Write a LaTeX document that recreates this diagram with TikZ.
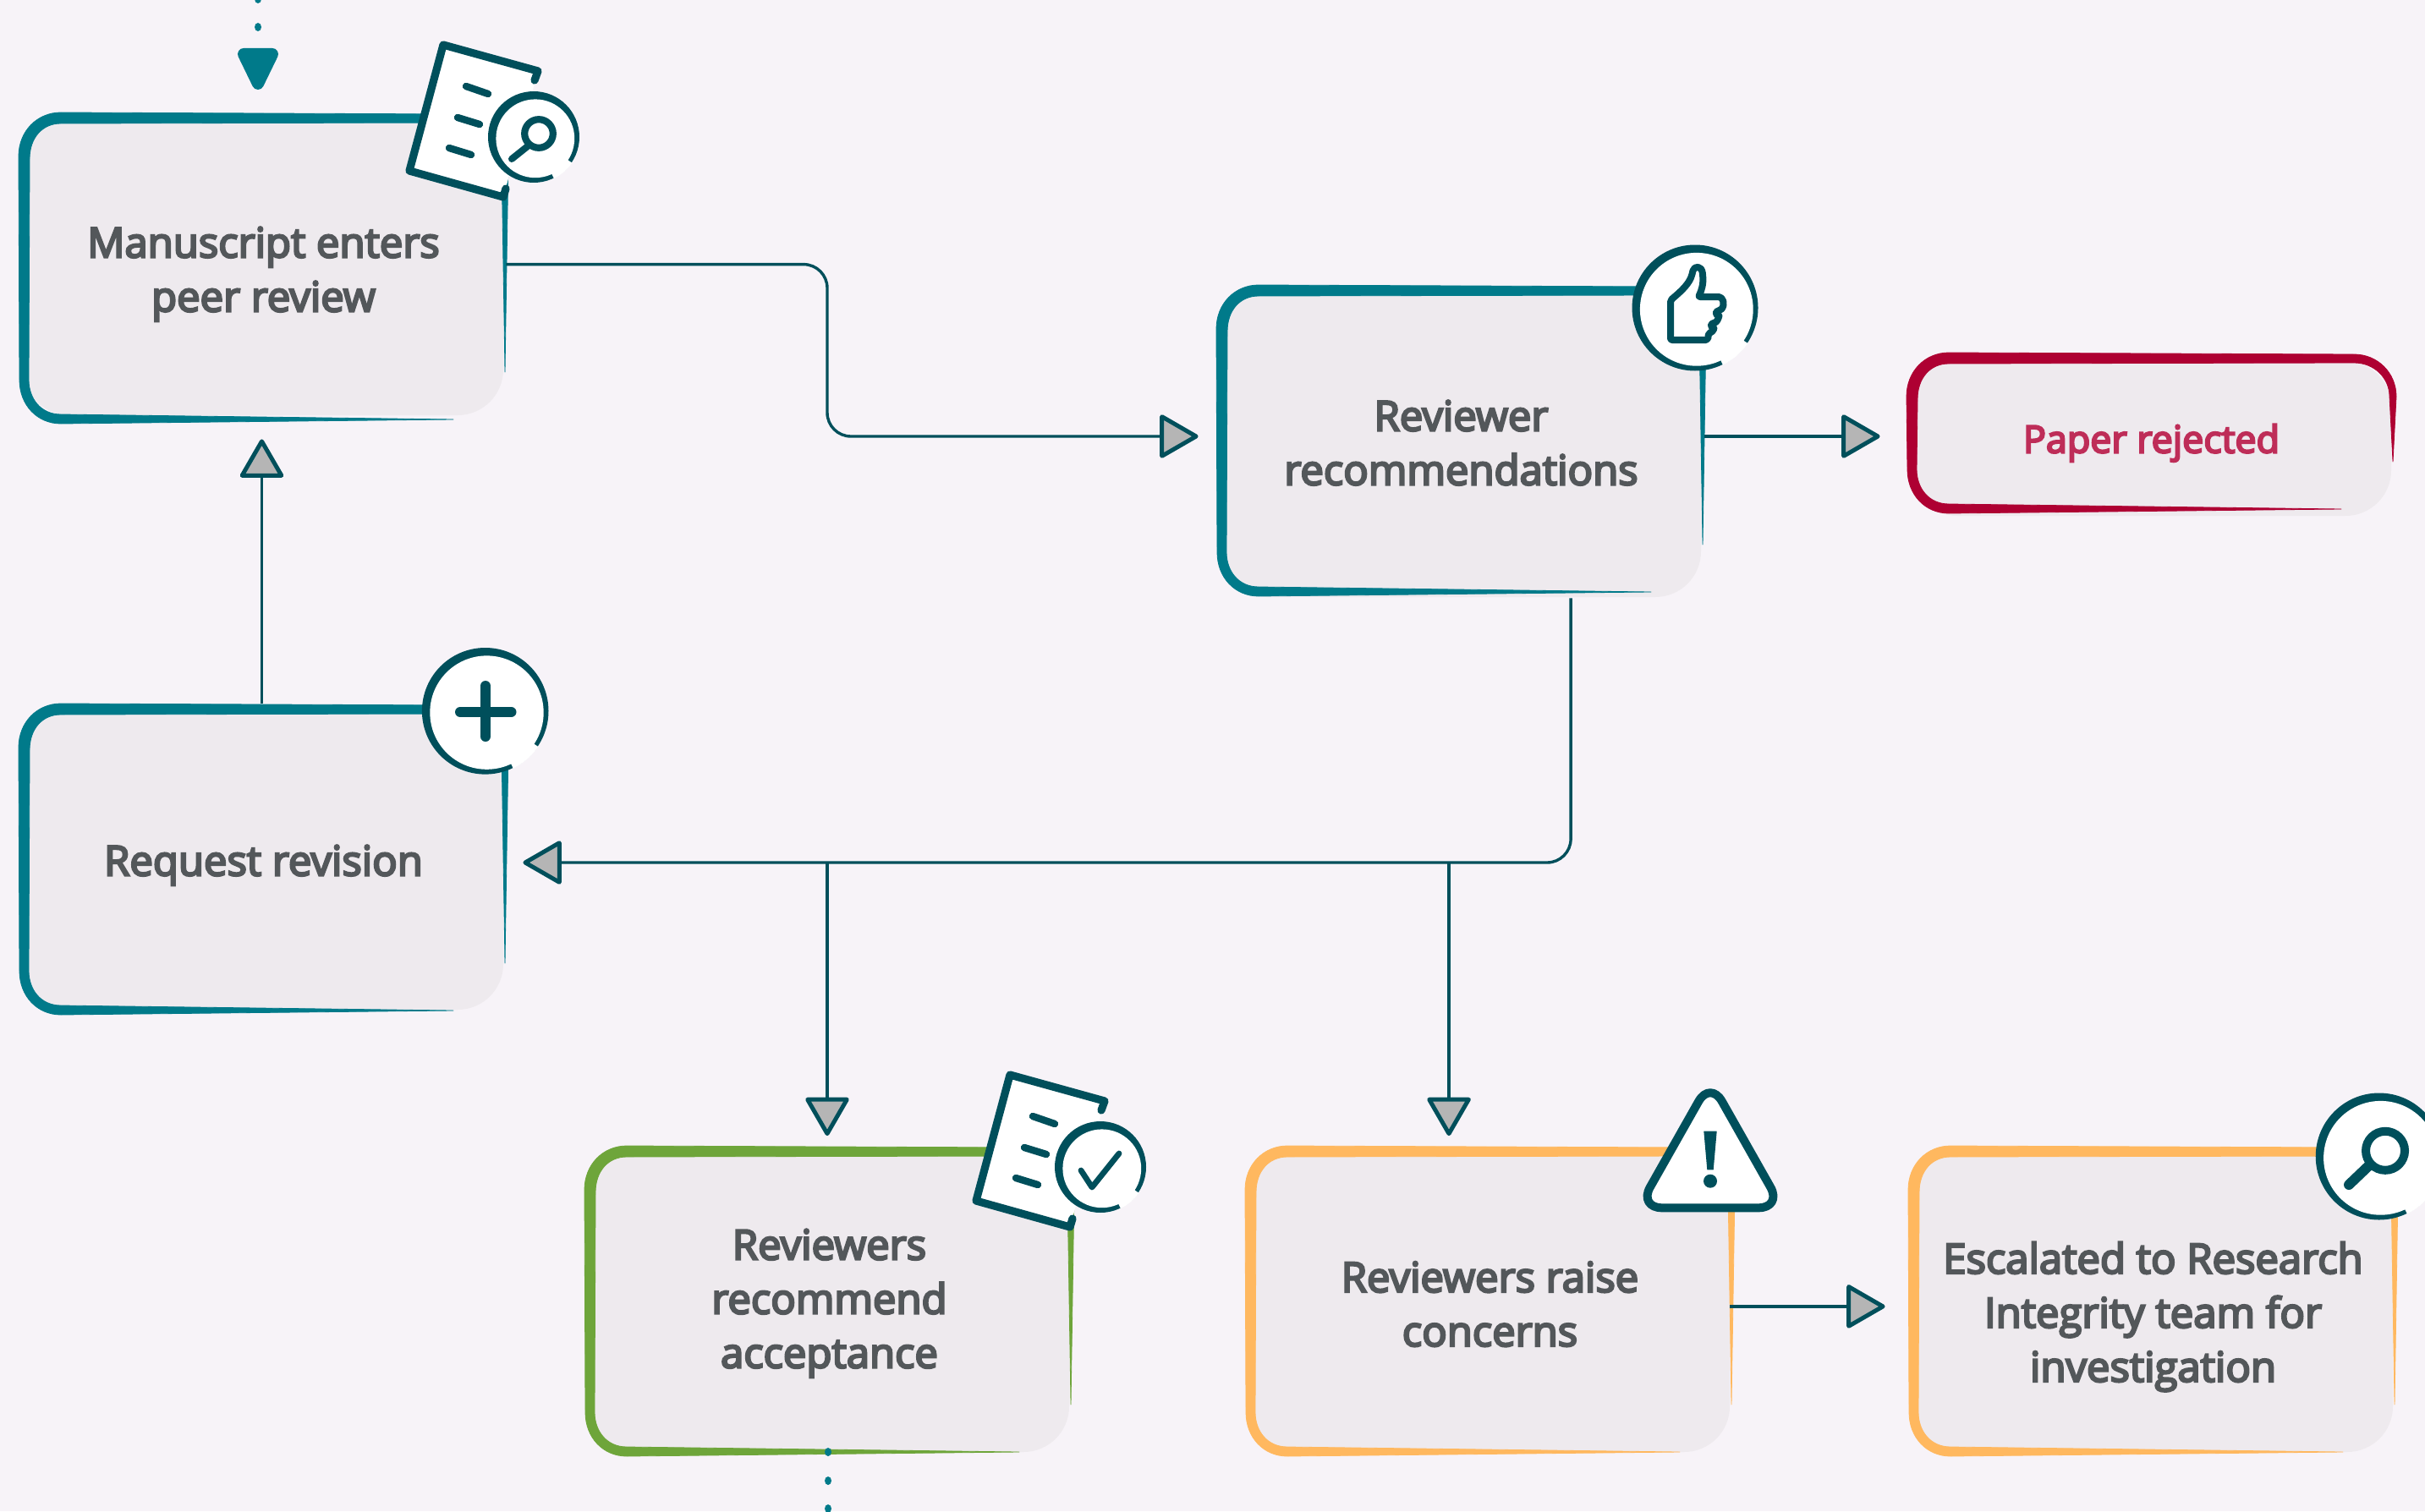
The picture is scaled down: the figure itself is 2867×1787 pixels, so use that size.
\documentclass[tikz,border=0pt]{standalone}
\usepackage{fontspec}
\newfontfamily\lab[FakeBold=5]{Open Sans}
\usetikzlibrary{arrows.meta,calc}
\definecolor{bgc}{HTML}{F7F3F8}
\definecolor{boxc}{HTML}{EEEAEE}
\definecolor{teal}{HTML}{007A8A}
\definecolor{icon}{HTML}{004F5B}
\definecolor{leaf}{HTML}{6EA53A}
\definecolor{amber}{HTML}{FFB85F}
\definecolor{crim}{HTML}{AE0032}
\definecolor{crimtxt}{HTML}{BE2D58}
\definecolor{txt}{HTML}{53575A}
\definecolor{tipc}{HTML}{B5B5B5}
\tikzset{
  x=0.5pt,y=-0.5pt,
  boxtext/.style={inner sep=0pt,minimum width=289.5pt,text=txt,font=\lab\fontsize{24.5}{32}\selectfont},
  conn/.style={draw=icon,line width=1.7pt,rounded corners=14pt,
     -{Triangle[length=24pt,width=27pt,fill=tipc,round,line width=2.5pt]}},
  iconline/.style={draw=icon,line width=4.6pt,line cap=round,line join=round},
  dotc/.style={fill=teal}
}
\newcommand\lbl[2][-10pt]{\raisebox{#1}[0pt][0pt]{\begin{tabular}{@{}c@{}}#2\end{tabular}}}
\newcommand\flowshape[6]{%
  \fill[boxc,rounded corners=27pt] (#1+6,#2+10) rectangle (#3-6,#6);
  \filldraw[#5,line width=0.4pt,line join=round]
    (#3-4,#4-61) -- (#3,#2+52) .. controls (#3,#2+24) and (#3-22,#2+2) .. (#3-50,#2+2)
    -- (#1+50,#2) .. controls (#1+22,#2) and (#1,#2+22) .. (#1,#2+52)
    -- (#1+1,#4-52) .. controls (#1+1,#4-22) and (#1+22,#4) .. (#1+50,#4)
    -- (#3-65,#4-5)
    -- (#1+50,#4-11) .. controls (#1+26,#4-11) and (#1+12,#4-30) .. (#1+12,#4-52)
    -- (#1+13,#2+55) .. controls (#1+13,#2+30) and (#1+28,#2+13) .. (#1+50,#2+13)
    -- (#3-50,#2+12) .. controls (#3-26,#2+12) and (#3-8,#2+30) .. (#3-8,#2+52)
    -- cycle;
}
\newcommand\ringdisc[3]{%
  \fill[icon] (#1,#2) circle[radius=#3*0.5pt];
  \fill[white] (#1+1.8,#2+1.8) circle[radius=(#3-7.6)*0.5pt];
  \fill[white] (#1,#2) -- ++(34:#3+0.6) arc[start angle=-34,end angle=-64,radius=(#3+0.6)*0.5pt] -- cycle;
}
\newcommand\docicon{%
  \fill[white] (524,53) -- (636,84) -- (595,233) -- (484,202) -- cycle;
  \draw[iconline] (632,95) -- (636,84) -- (524,53) -- (484,202) -- (595,233) -- (598,223);
  \draw[iconline,line width=4.2pt] (551,102) -- (577,111) (541,139) -- (567,147) (531,175) -- (557,183);
  \ringdisc{631}{162}{54}
}
\begin{document}
\begin{tikzpicture}
\useasboundingbox (0,0) rectangle (2867,1787);
\clip (0,0) rectangle (2867,1787);
\fill[bgc] (0,0) rectangle (2867,1787);

% boxes
\flowshape{22}{133}{601}{501}{teal}{491}
\flowshape{1438}{337}{2017}{705}{teal}{706}
\flowshape{22}{832}{601}{1200}{teal}{1194}
\flowshape{691}{1355}{1270}{1722}{leaf}{1717}
\flowshape{1472}{1355}{2051}{1722}{amber}{1717}
\flowshape{2256}{1355}{2835}{1722}{amber}{1717}
\flowshape{2254}{417}{2833}{607}{crim}{610}

% labels
\node[boxtext,minimum height=184pt] (b1) at (311.5,317) {\lbl[-9.5pt]{Manuscript enters\\peer review}};
\node[boxtext,minimum height=184pt] (b2) at (1727.5,521) {\lbl{Reviewer\\recommendations}};
\node[boxtext,minimum height=184pt] (b3) at (311.5,1016) {\lbl[-9.5pt]{Request revision}};
\node[boxtext,minimum height=184pt] (b4) at (980.5,1538.5) {\lbl[-7.3pt]{Reviewers\\recommend\\acceptance}};
\node[boxtext,minimum height=184pt] (b5) at (1761.5,1538.5) {\lbl[-10.5pt]{Reviewers raise\\concerns}};
\node[boxtext,minimum height=184pt] (b6) at (2545.5,1538.5) {\lbl[-15.5pt]{Escalated to Research\\Integrity team for\\investigation}};
\node[boxtext,minimum height=95pt,text=crimtxt,font=\lab\fontsize{22.4}{32}\selectfont] (b7) at (2543.5,514) {\lbl[-9.5pt]{Paper rejected}};

% connectors
\coordinate (m1) at (978,400);
\coordinate (j1) at (978,1020);
\coordinate (j2) at (1713,1020);
\draw[conn,shorten >=10.5pt] ([yshift=2.2pt,xshift=-1.5pt]b1.east) -| (m1) |- ([yshift=2.5pt]b2.west);
\draw[conn,shorten >=15.5pt] ([yshift=2.5pt,xshift=-1pt]b2.east) -- ([yshift=-1pt]b7.west);
\draw[conn,shorten >=8.5pt] ([xshift=64.8pt,yshift=-1pt]b2.south) |- ([yshift=-2pt]b3.east);
\draw[conn,shorten >=5.5pt] (j1) -- (j1 |- b4.north);
\draw[conn,shorten >=5.5pt] (j2) -- (j2 |- b5.north);
\draw[conn,shorten >=9pt] ([xshift=-1pt]b3.north) -- ([xshift=-1pt]b1.south);
\draw[conn,shorten >=13.5pt] ([yshift=-3.2pt,xshift=-3pt]b5.east) -- ([yshift=-3.2pt]b6.west);

% flow in / out
\fill[teal,draw=teal,line width=7pt,line join=round] (288,64) -- (322,64) -- (305,99) -- cycle;
\fill[dotc] (305,-1) ellipse[x radius=2pt,y radius=2.5pt];
\fill[dotc] (305,32) ellipse[x radius=2pt,y radius=2.5pt];
\fill[dotc] (979,1717) ellipse[x radius=2pt,y radius=2.5pt];
\fill[dotc] (979,1751) ellipse[x radius=2pt,y radius=2.5pt];
\fill[dotc] (979,1784) ellipse[x radius=2pt,y radius=2.5pt];

% icon: document with magnifier
\docicon
\draw[icon,line width=4.1pt] (637,158) circle[radius=8.4pt];
\draw[iconline,line width=4pt] (625,172) -- (605,188);

% icon: document with check
\begin{scope}[shift={(670,1218)}]
\docicon
\draw[iconline,line width=3.4pt] (608,166) -- (621,186) -- (653,146);
\end{scope}

% icon: thumb
\ringdisc{2004}{364}{74.5}
\draw[iconline,line width=4pt,rounded corners=1pt] (1975,402) -- (1975,355)
  .. controls (1988,344) and (1998,335) .. (2001,322)
  .. controls (2003,314) and (2012,314) .. (2013,325)
  .. controls (2014,335) and (2012,343) .. (2008,351)
  -- (2030,351) .. controls (2037,351) and (2040,360) .. (2034,367)
  .. controls (2026,368) and (2030,374) .. (2033,372)
  .. controls (2031,378) and (2030,380) .. (2027,382)
  .. controls (2021,383) and (2024,388) .. (2027,387)
  .. controls (2025,392) and (2023,393) .. (2020,394)
  -- (2019,402) -- cycle;

% icon: plus
\ringdisc{573.7}{840.8}{74.8}
\draw[iconline,line width=6pt] (544,842) -- (604.5,842) (574,811) -- (574,871);

% icon: warning
\filldraw[fill=white,draw=icon,line width=5pt,rounded corners=14pt,line join=round]
  (2022,1278) -- (2107,1428.3) -- (1937,1428.3) -- cycle;
\fill[icon] (2014.3,1337.7) -- (2029.7,1337.7) -- (2025.7,1383.3) -- (2018.3,1383.3) -- cycle;
\fill[icon] (2022,1396.7) circle[radius=4pt];

% icon: magnifier
\ringdisc{2812.7}{1367.5}{75}
\draw[icon,line width=5pt] (2820,1360.8) circle[radius=11.5pt];
\draw[iconline,line width=6pt] (2800,1379) -- (2777,1401);
\end{tikzpicture}
\end{document}
